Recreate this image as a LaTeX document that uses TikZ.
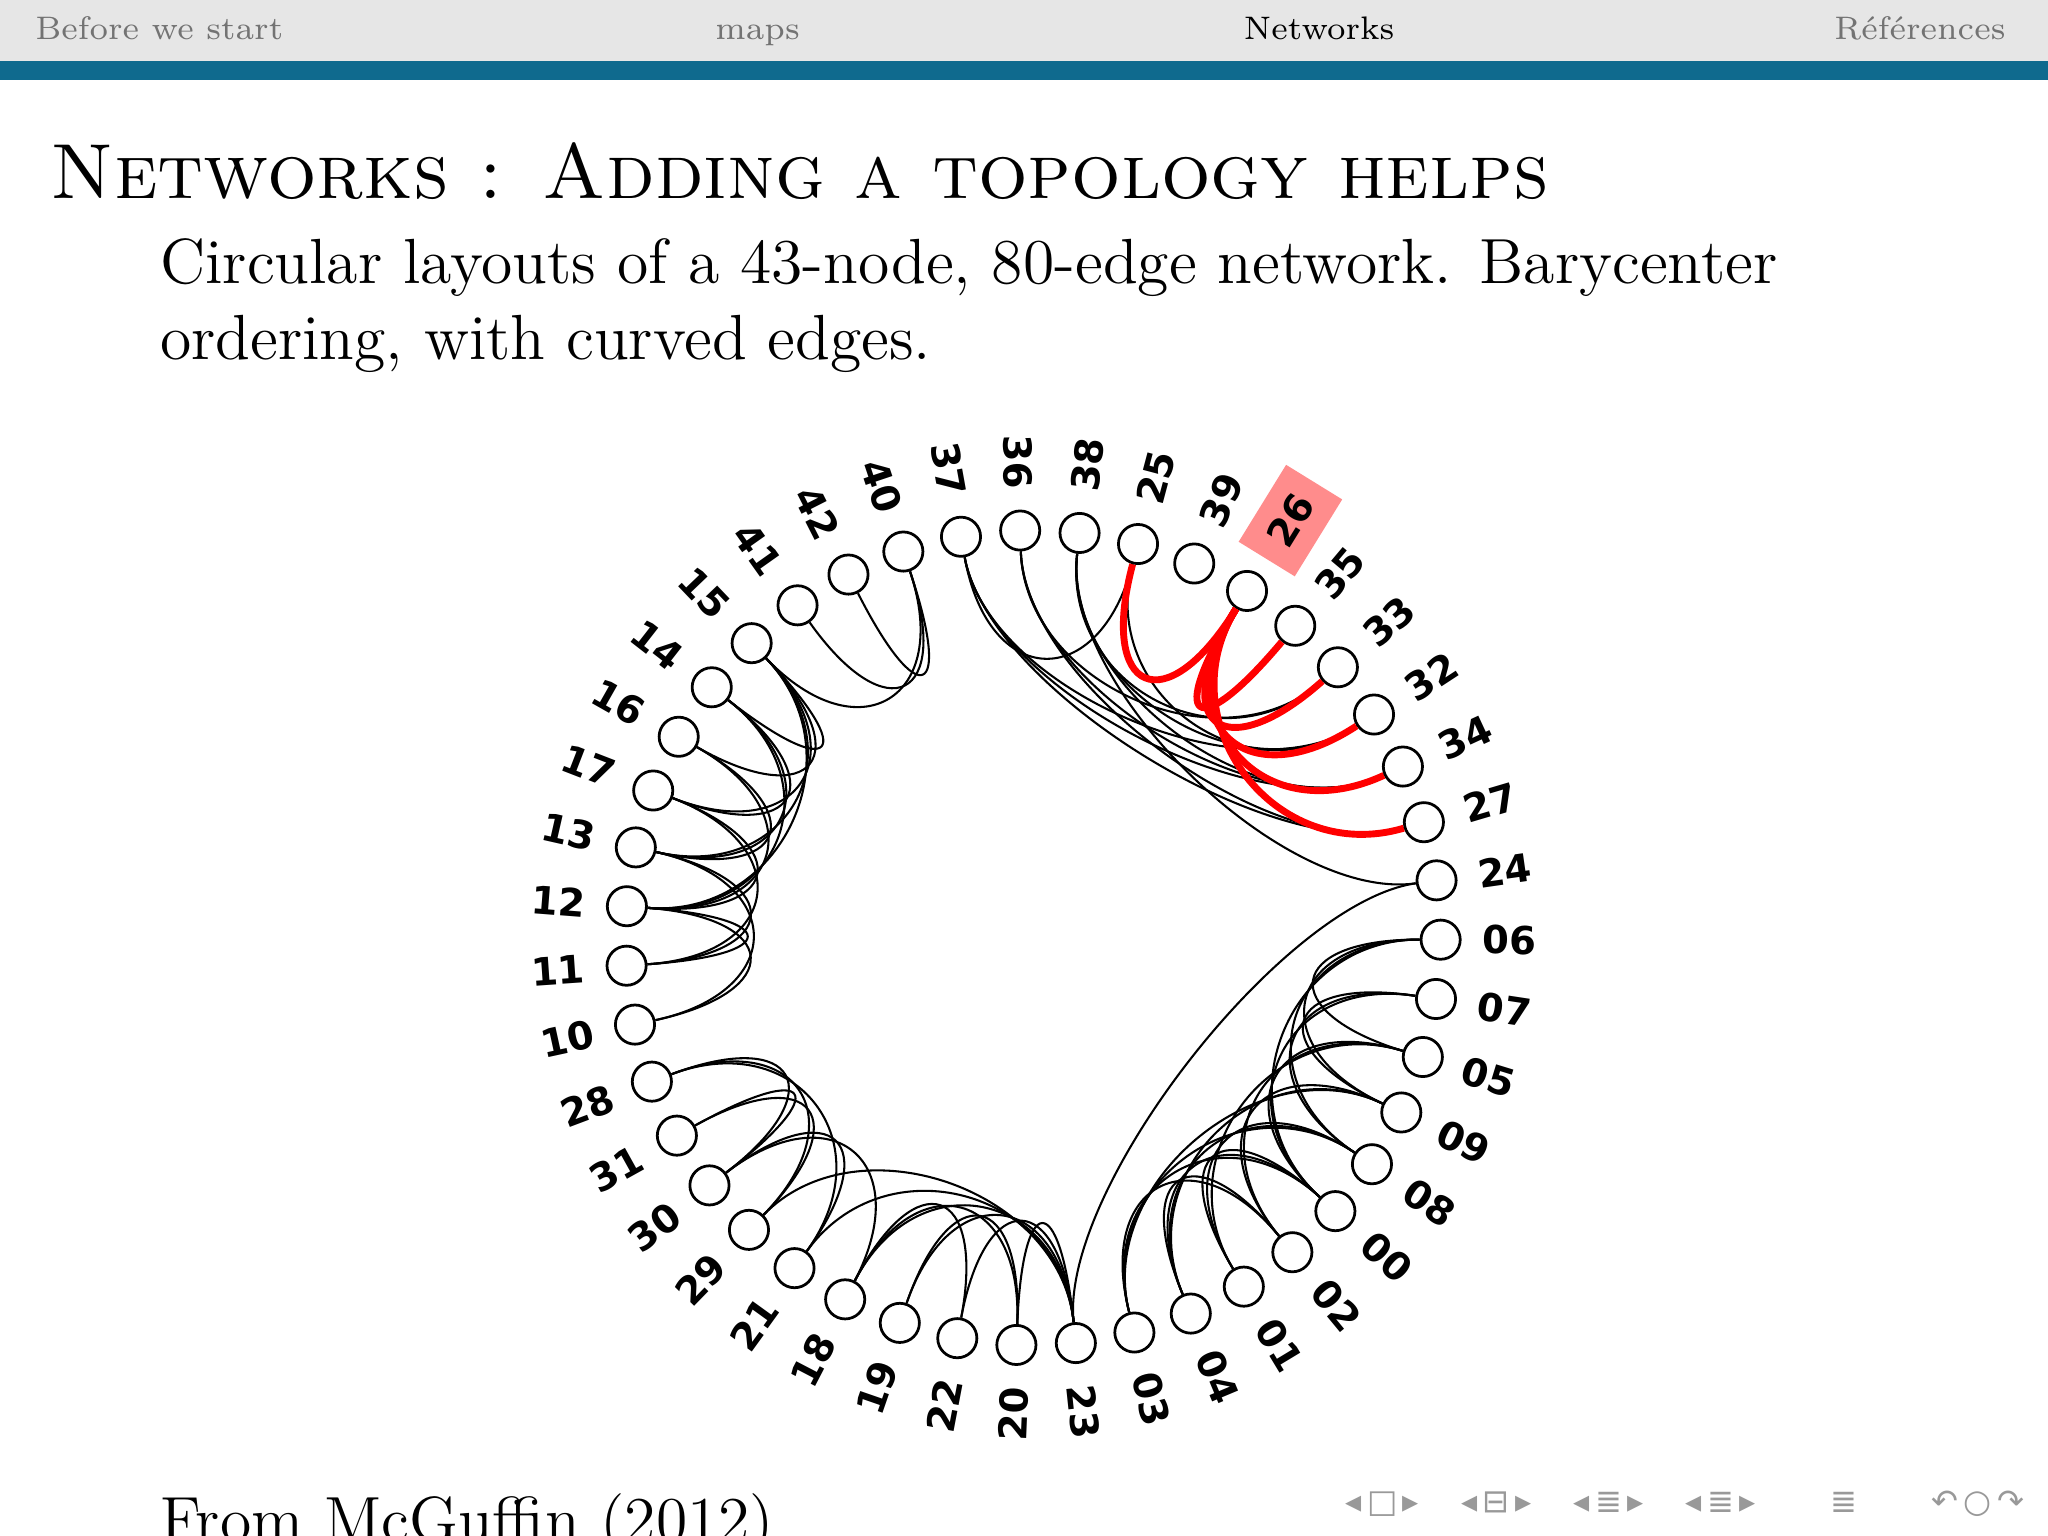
\documentclass[tikz,border=0pt]{standalone}
\usepackage{fontspec}
\newfontfamily\dvs{DejaVu Sans}
\usetikzlibrary{calc}
\definecolor{hdrgray}{HTML}{E6E6E6}
\definecolor{barblue}{HTML}{0F6A8E}
\tikzset{
  vtx/.style={circle,draw=black,line width=0.6pt,fill=white,minimum size=3mm,inner sep=0pt},
  lbl/.style={font=\dvs\bfseries\fontsize{8.4}{9}\selectfont,inner sep=1pt},
  edg/.style={line width=0.45pt,black},
  redg/.style={line width=1.5pt,red},
  hdr/.style={font=\fontsize{7.1}{8}\selectfont,anchor=base},
}
\newcommand{\arcedge}[3]{\draw[#3] (n#1) .. controls ($(n#1)!0.38!(c)$) and ($(n#2)!0.38!(c)$) .. (n#2);}
\begin{document}
\begin{tikzpicture}[x=0.1mm,y=-0.1mm]
\useasboundingbox (0,0) rectangle (1568,1176);
\fill[white] (0,0) rectangle (1568,1176);
% header
\fill[hdrgray] (0,0) rectangle (1568,47);
\fill[barblue] (0,47) rectangle (1568,61);
\node[hdr,text=black!55] (h1) at (122,30) {Before we start};
\node[hdr,text=black!55] (h2) at (580,30) {maps};
\node[hdr,text=black] (h3) at (1010,30) {Networks};
\node[hdr,text=black!55] (h4) at (1470,30) {Références};
% title and text
\node[anchor=base west,inner sep=0pt,font=\fontsize{17}{20}\selectfont\scshape] (title) at (38,152) {Networks : Adding a topology helps};
\node[anchor=base west,inner sep=0pt,font=\fontsize{13.9}{17}\selectfont] (b1) at (122,217) {Circular layouts of a 43-node, 80-edge network. Barycenter};
\node[anchor=base west,inner sep=0pt,font=\fontsize{13.9}{17}\selectfont] (b2) at (122,275) {ordering, with curved edges.};
\node[anchor=base west,inner sep=0pt,font=\fontsize{13.9}{17}\selectfont] (src) at (122,1180) {From McGuffin (2012)};
\node[anchor=base,inner sep=0pt,text=black!40,font=\dvs\fontsize{7}{8}\selectfont] (nav) at (1290,1158) {◂\,□\,▸ \quad ◂\,⊟\,▸ \quad ◂\,≣\,▸ \quad ◂\,≣\,▸ \qquad ≣ \qquad ↶\,○\,↷};
% graph
\coordinate (c) at (791,718);
\foreach \lab [count=\i from 0] in {37,36,38,25,39,26,35,33,32,34,27,24,06,07,05,09,08,00,02,01,04,03,23,20,22,19,18,21,29,30,31,28,10,11,12,13,17,16,14,15,41,42,40}{
  \pgfmathsetmacro{\a}{100.2-8.372*\i}
  \pgfmathsetmacro{\px}{791+312*cos(\a)}
  \pgfmathsetmacro{\py}{718-312*sin(\a)}
  \pgfmathsetmacro{\lx}{791+340*cos(\a)}
  \pgfmathsetmacro{\ly}{718-340*sin(\a)}
  \node[vtx] (n\lab) at (\px,\py) {};
  \pgfmathparse{cos(\a)>=0?1:0}
  \ifnum\pgfmathresult=1
    \ifnum\lab=26
      \node[lbl,anchor=west,rotate=\a,fill=red!45,inner sep=4pt] (l\lab) at (\lx,\ly) {\lab};
    \else
      \node[lbl,anchor=west,rotate=\a] (l\lab) at (\lx,\ly) {\lab};
    \fi
  \else
    \node[lbl,anchor=east,rotate=\a+180] (l\lab) at (\lx,\ly) {\lab};
  \fi
}
% black edges
\foreach \u/\v in {41/40,42/40,15/40,
 37/32,37/34,37/27,36/33,36/34,36/27,38/33,38/32,38/34,38/24,25/32,25/37,
 15/14,15/16,15/17,15/13,15/12,14/17,14/13,16/13,16/12,17/12,17/11,13/11,13/10,12/10,12/11,14/12,
 28/30,28/29,28/21,31/30,31/29,30/21,30/18,29/23,21/23,18/20,18/23,18/22,19/23,19/20,22/23,20/23,
 24/23,
 03/00,03/08,03/09,04/00,04/08,04/02,01/00,01/08,02/09,02/05,00/05,00/07,00/06,08/07,08/06,09/06,09/07,05/06,03/02,04/09,01/05}{
  \arcedge{\u}{\v}{edg}
}
% red edges
\foreach \v in {25,35,33,32,34,27}{
  \arcedge{26}{\v}{redg}
}
\end{tikzpicture}
\end{document}
